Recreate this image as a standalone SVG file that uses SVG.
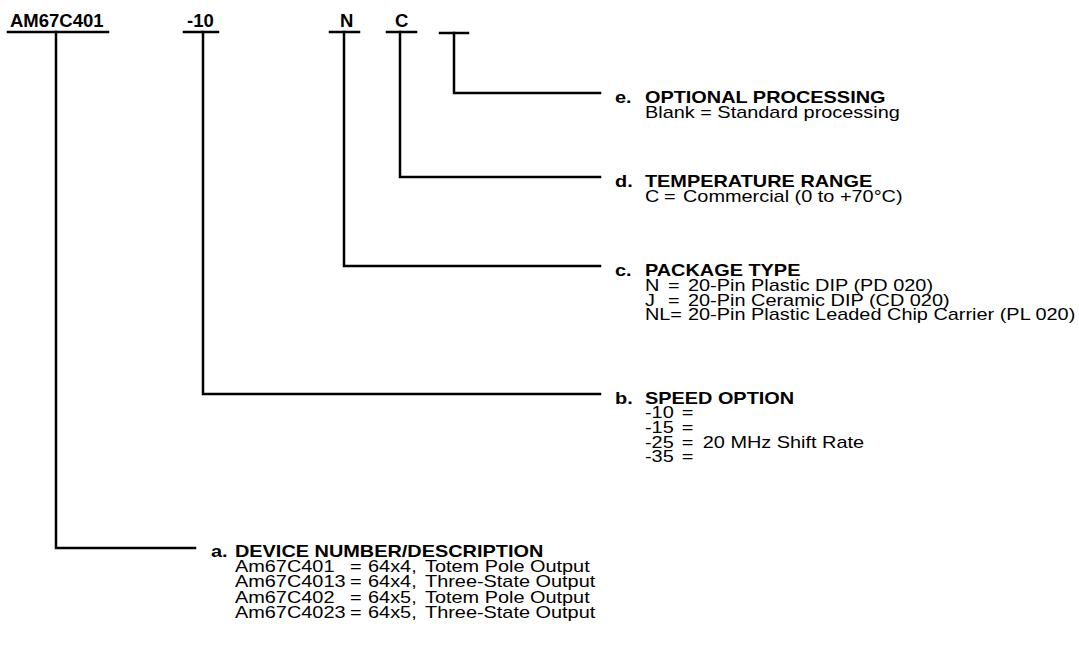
<svg xmlns="http://www.w3.org/2000/svg" width="1079" height="648" viewBox="0 0 1079 648">
<style>
  .ln { stroke:#000; stroke-width:2.5; fill:none; stroke-linecap:square; }
  text { font-family:"Liberation Sans", Arial, sans-serif; font-size:17px; fill:#000; }
  .b { font-weight:bold; }
  .h { font-size:18.5px; font-weight:bold; }
</style>
<rect width="1079" height="648" fill="#fff"/>
<g id="header">
  <text class="h" x="10" y="27">AM67C401</text>
  <text class="h" x="187" y="27">-10</text>
  <text class="h" x="340" y="27">N</text>
  <text class="h" x="395" y="27">C</text>
</g>
<g id="connectors">
  <path class="ln" d="M8 32H108"/>
  <path class="ln" d="M184 32H218"/>
  <path class="ln" d="M330 32H359"/>
  <path class="ln" d="M387 32H416"/>
  <path class="ln" d="M440 33H468"/>
  <path class="ln" d="M56 32V548H195"/>
  <path class="ln" d="M203 32V394H600"/>
  <path class="ln" d="M344 32V266H600"/>
  <path class="ln" d="M400 32V177H600"/>
  <path class="ln" d="M454 33V93H600"/>
</g>
<g id="node-e" transform="translate(615,0) scale(1.17,1)">
  <text class="b" x="0" y="103.2">e.</text>
  <text class="b" x="25.6" y="103.2">OPTIONAL PROCESSING</text>
  <text x="25.6" y="118.2">Blank = Standard processing</text>
</g>
<g id="node-d" transform="translate(615,0) scale(1.17,1)">
  <text class="b" x="0" y="187.2">d.</text>
  <text class="b" x="25.6" y="187.2">TEMPERATURE RANGE</text>
  <text x="25.6" y="202.2">C</text><text x="41.9" y="202.2">=</text><text x="58.1" y="202.2">Commercial (0 to +70°C)</text>
</g>
<g id="node-c" transform="translate(615,0) scale(1.17,1)">
  <text class="b" x="0" y="276.2">c.</text>
  <text class="b" x="25.6" y="276.2">PACKAGE TYPE</text>
  <text x="25.6" y="291.2">N</text><text x="45.3" y="291.2">=</text><text x="62.4" y="291.2">20-Pin Plastic DIP (PD 020)</text>
  <text x="25.6" y="306.2">J</text><text x="45.3" y="306.2">=</text><text x="62.4" y="306.2">20-Pin Ceramic DIP (CD 020)</text>
  <text x="25.6" y="320.2">NL=</text><text x="62.4" y="320.2">20-Pin Plastic Leaded Chip Carrier (PL 020)</text>
</g>
<g id="node-b" transform="translate(615,0) scale(1.17,1)">
  <text class="b" x="0" y="404.2">b.</text>
  <text class="b" x="25.6" y="404.2">SPEED OPTION</text>
  <text x="25.6" y="418.2">-10</text><text x="57" y="418.2">=</text>
  <text x="25.6" y="433.2">-15</text><text x="57" y="433.2">=</text>
  <text x="25.6" y="448.2">-25</text><text x="57" y="448.2">=</text><text x="75" y="448.2">20 MHz Shift Rate</text>
  <text x="25.6" y="462.2">-35</text><text x="57" y="462.2">=</text>
</g>
<g id="node-a" transform="translate(211,0) scale(1.17,1)">
  <text class="b" x="0" y="557.2">a.</text>
  <text class="b" x="20.5" y="557.2">DEVICE NUMBER/DESCRIPTION</text>
  <text x="20.5" y="572.2">Am67C401</text><text x="118.8" y="572.2">=</text><text x="134.2" y="572.2">64x4,</text><text x="182.9" y="572.2">Totem Pole Output</text>
  <text x="20.5" y="587.2">Am67C4013</text><text x="118.8" y="587.2">=</text><text x="134.2" y="587.2">64x4,</text><text x="182.9" y="587.2">Three-State Output</text>
  <text x="20.5" y="603.2">Am67C402</text><text x="118.8" y="603.2">=</text><text x="134.2" y="603.2">64x5,</text><text x="182.9" y="603.2">Totem Pole Output</text>
  <text x="20.5" y="618.2">Am67C4023</text><text x="118.8" y="618.2">=</text><text x="134.2" y="618.2">64x5,</text><text x="182.9" y="618.2">Three-State Output</text>
</g>
</svg>
